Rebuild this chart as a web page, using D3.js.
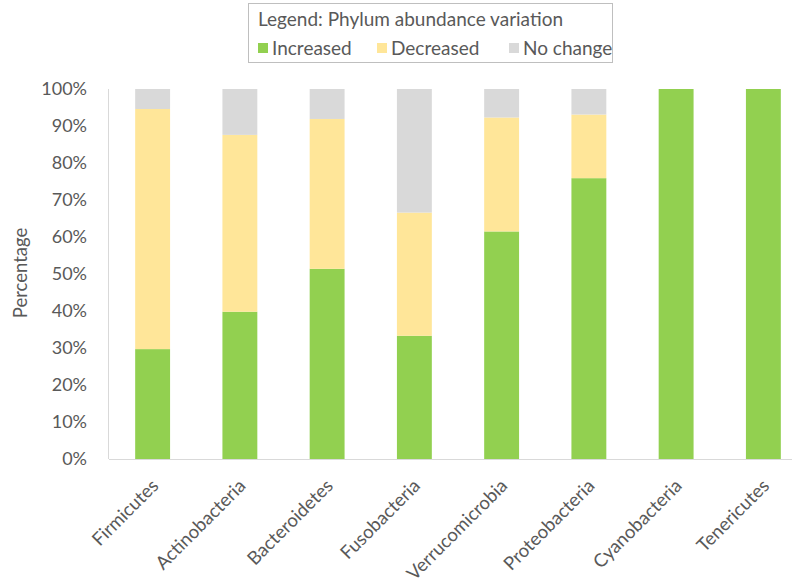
<!DOCTYPE html>
<html>
<head>
<meta charset="utf-8">
<script src="https://cdn.jsdelivr.net/npm/d3@7/dist/d3.min.js"></script>
<style>
  html, body { margin: 0; padding: 0; background: #fff; }
  svg { display: block; font-family: Lato, "Open Sans", sans-serif; }
</style>
</head>
<body>
<svg id="chart" width="792" height="586"></svg>
<script>
// Phylum categories and share (%) of each abundance change
const phyla = ["Firmicutes", "Actinobacteria", "Bacteroidetes", "Fusobacteria",
               "Verrucomicrobia", "Proteobacteria", "Cyanobacteria", "Tenericutes"];
const increased = [29.7, 39.8, 51.4, 33.3, 61.5, 75.9, 100, 100];
const decreased = [64.9, 47.8, 40.5, 33.3, 30.8, 17.2, 0, 0];
const noChange  = [5.4, 12.4, 8.1, 33.4, 7.7, 6.9, 0, 0];
const seriesNames = ["Increased", "Decreased", "No change"];
const yTicks = [0, 10, 20, 30, 40, 50, 60, 70, 80, 90, 100];

const colors = { "Increased": "#92d050", "Decreased": "#ffe699", "No change": "#d9d9d9" };
const textColor = "#595959";
const fontStack = "Lato, 'Open Sans', sans-serif";

const rows = phyla.map((p, i) => ({
  phylum: p,
  "Increased": increased[i],
  "Decreased": decreased[i],
  "No change": noChange[i]
}));
const stacked = d3.stack().keys(seriesNames)(rows);

const svg = d3.select("#chart");
const plot = { left: 109, right: 807, top: 89, bottom: 459 };

const x = d3.scaleBand().domain(phyla).range([plot.left, plot.right]).paddingInner(0.6).paddingOuter(0.3);
const y = d3.scaleLinear().domain([0, 100]).range([plot.bottom, plot.top]);

// stacked bars
svg.append("g").selectAll("g")
  .data(stacked)
  .join("g")
  .attr("fill", d => colors[d.key])
  .selectAll("rect")
  .data(d => d)
  .join("rect")
  .attr("x", d => x(d.data.phylum))
  .attr("width", x.bandwidth())
  .attr("y", d => y(d[1]))
  .attr("height", d => y(d[0]) - y(d[1]));

// left border and baseline
svg.append("line").attr("x1", plot.left - 0.5).attr("x2", plot.left - 0.5)
  .attr("y1", plot.top).attr("y2", plot.bottom)
  .attr("stroke", "#d9d9d9").attr("stroke-width", 1);
svg.append("line").attr("x1", plot.left).attr("x2", plot.right)
  .attr("y1", plot.bottom + 0.5).attr("y2", plot.bottom + 0.5)
  .attr("stroke", "#d9d9d9").attr("stroke-width", 1);

// y axis
const yAxis = svg.append("g")
  .attr("transform", `translate(${plot.left},0)`)
  .call(d3.axisLeft(y).tickValues(yTicks).tickFormat(d => d + "%").tickSize(0).tickPadding(22));
yAxis.select(".domain").remove();
yAxis.selectAll("text").attr("fill", textColor).style("font-size", "18px")
  .style("font-family", fontStack);

// x axis with rotated labels
const xAxis = svg.append("g")
  .attr("transform", `translate(0,${plot.bottom})`)
  .call(d3.axisBottom(x).tickSize(0).tickPadding(0));
xAxis.select(".domain").remove();
xAxis.selectAll("text")
  .attr("fill", textColor)
  .style("font-size", "18.5px")
  .style("font-family", fontStack)
  .attr("text-anchor", "end")
  .attr("dy", null)
  .attr("y", 0)
  .attr("transform", "translate(7,28) rotate(-45)");

// y axis title
svg.append("text")
  .attr("transform", "translate(27,273) rotate(-90)")
  .attr("text-anchor", "middle")
  .attr("fill", textColor)
  .style("font-size", "18.5px")
  .text("Percentage");

// legend
const legend = svg.append("g");
legend.append("rect")
  .attr("x", 248.5).attr("y", 3.5).attr("width", 364).attr("height", 59)
  .attr("fill", "#fff").attr("stroke", "#bfbfbf").attr("stroke-width", 1);
legend.append("text")
  .attr("x", 258).attr("y", 26)
  .attr("fill", textColor).style("font-size", "19px")
  .text("Legend: Phylum abundance variation");
const legendX = [258, 377, 509];
seriesNames.forEach((name, i) => {
  legend.append("rect")
    .attr("x", legendX[i]).attr("y", 43).attr("width", 10).attr("height", 10)
    .attr("fill", colors[name]);
  legend.append("text")
    .attr("x", legendX[i] + 14).attr("y", 55)
    .attr("fill", textColor).style("font-size", "19px")
    .text(name);
});
</script>
</body>
</html>
